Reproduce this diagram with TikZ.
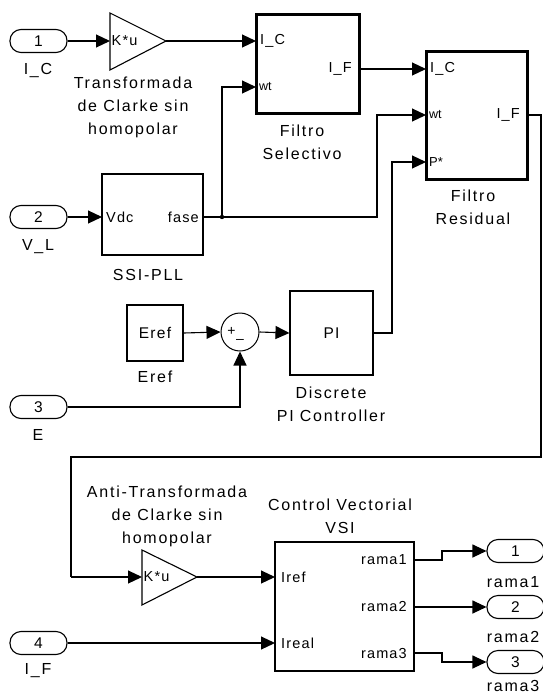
\documentclass[tikz,border=0pt]{standalone}
\usepackage{fontspec}
\setmainfont{Liberation Sans}[LetterSpace=8]
\usetikzlibrary{arrows.meta}
\begin{document}
\begin{tikzpicture}[x=1pt,y=-1pt,
  lbl/.style={font=\fontsize{16}{23}\selectfont\addfontfeatures{LetterSpace=11}, align=center, inner sep=0pt},
  prt/.style={font=\fontsize{14.5}{16}\selectfont, inner sep=0pt},
  blk/.style={draw, line width=1.1pt, inner sep=0pt},
  tblk/.style={draw, line width=3pt, inner sep=0pt},
  iop/.style={draw, line width=1.1pt, rounded corners=11pt, minimum width=57pt, minimum height=23pt, inner sep=0pt, font=\fontsize{15.5}{16}\selectfont},
  wire/.style={line width=1.1pt},
  arr/.style={wire, -{Triangle[length=14pt,width=13pt]}},
]
\useasboundingbox (0,0) rectangle (542,696);
\fill[white] (0,0) rectangle (542,696);

% inports
\node[iop] (in1) at (38.5,41) {1};
\node[iop] (in2) at (38.5,217) {2};
\node[iop] (in3) at (38.5,407) {3};
\node[iop] (in4) at (38.5,643) {4};
\node[lbl] (in1l) at (38,71) {I\_C};
\node[lbl] (in2l) at (38,247) {V\_L};
\node[lbl] (in3l) at (38,435) {E};
\node[lbl] (in4l) at (38,671) {I\_F};

% outports
\node[iop] (out1) at (515.5,551) {1};
\node[iop] (out2) at (515.5,607) {2};
\node[iop] (out3) at (515.5,662) {3};
\node[lbl] (out1l) at (513,582) {rama1};
\node[lbl] (out2l) at (513,637) {rama2};
\node[lbl] (out3l) at (513,686) {rama3};

% gain 1
\coordinate (g1in) at (110,41);
\coordinate (g1out) at (166,41);
\draw[wire] (110,13) -- (g1out) -- (110,70) -- cycle;
\node[prt, anchor=west] (g1t) at (111.5,41) {K*u};
\node[lbl] (g1l) at (133,107) {Transformada\\de Clarke sin\\homopolar};

% Filtro Selectivo
\node[tblk, minimum width=103pt, minimum height=99pt] (fs) at (307.5,63.5) {};
\coordinate (fsIC) at (256,41);
\coordinate (fswt) at (256,87);
\coordinate (fsout) at (359,69);
\node[prt, anchor=west] at (260,41) {I\_C};
\node[prt, anchor=west, font=\fontsize{12.5}{14}\selectfont\addfontfeatures{LetterSpace=0}] at (259,87) {wt};
\node[prt, anchor=east] at (352,69) {I\_F};
\node[lbl] (fsl) at (302,142) {Filtro\\Selectivo};

% Filtro Residual
\node[tblk, minimum width=101pt, minimum height=128pt] (fr) at (476.5,115) {};
\coordinate (frIC) at (426,69);
\coordinate (frwt) at (426,115);
\coordinate (frP) at (426,162);
\coordinate (frout) at (527,115);
\node[prt, anchor=west] at (430,69) {I\_C};
\node[prt, anchor=west, font=\fontsize{12.5}{14}\selectfont\addfontfeatures{LetterSpace=0}] at (429,115) {wt};
\node[prt, anchor=west, font=\fontsize{13}{14}\selectfont\addfontfeatures{LetterSpace=0}] at (429,162) {P*};
\node[prt, anchor=east] at (520,115) {I\_F};
\node[lbl] (frl) at (473,207) {Filtro\\Residual};

% SSI-PLL
\node[blk, minimum width=101pt, minimum height=81pt] (ssi) at (152.5,214.5) {};
\coordinate (ssiin) at (102,217);
\coordinate (ssiout) at (203,217);
\node[prt, anchor=west] at (106,217) {Vdc};
\node[prt, anchor=east] at (199,217) {fase};
\node[lbl] (ssil) at (148,275) {SSI-PLL};

% Eref constant
\node[blk, minimum width=56pt, minimum height=56pt, font=\fontsize{15.5}{16}\selectfont] (eref) at (155,333) {Eref};
\node[lbl] (erefl) at (155,377) {Eref};

% sum
\node[draw, circle, line width=1pt, minimum size=38pt, inner sep=0pt] (sum) at (240,332) {};
\node[prt, font=\fontsize{14}{14}\selectfont] at (231.5,331) {+};
\node[prt, font=\fontsize{14}{14}\selectfont] at (240,341.5) {–};

% PI
\node[blk, minimum width=83pt, minimum height=84pt, font=\fontsize{15.5}{16}\selectfont] (pi) at (331.5,333) {PI};
\node[lbl] (pil) at (331,404) {Discrete\\PI Controller};

% gain 2
\coordinate (g2in) at (142,577);
\coordinate (g2out) at (197,577);
\draw[wire] (142,550) -- (g2out) -- (142,605) -- cycle;
\node[prt, anchor=west] (g2t) at (143.5,577) {K*u};
\node[lbl] (g2l) at (167,516) {Anti-Transformada\\de Clarke sin\\homopolar};

% Control Vectorial VSI
\node[blk, minimum width=139pt, minimum height=129pt] (cv) at (344.5,606.5) {};
\coordinate (cvref) at (275,577);
\coordinate (cvreal) at (275,643);
\coordinate (cvr1) at (414,560);
\coordinate (cvr2) at (414,607);
\coordinate (cvr3) at (414,653);
\node[prt, anchor=west] at (281,577) {Iref};
\node[prt, anchor=west] at (281,643) {Ireal};
\node[prt, anchor=east] at (407,560) {rama1};
\node[prt, anchor=east] at (407,607) {rama2};
\node[prt, anchor=east] at (407,653) {rama3};
\node[lbl] (cvl) at (340,516) {Control Vectorial\\VSI};

% wires
\draw[arr] (in1.east) -- (g1in);
\draw[arr] (g1out) -- (fsIC);
\draw[arr] (in2.east) -- (ssiin);
\coordinate (jn) at (222,217);
\draw[arr] (ssiout) -- (377,217) |- (frwt);
\draw[arr] (jn) |- (fswt);
\fill (jn) circle (2.2pt);
\draw[arr] (fsout) -- (frIC);
\draw[wire] (frout) -- (541,115) -- (541,457) -- (71,457) -- (71,577);
\coordinate (lp) at (71,577);
\draw[arr] (lp) -- (g2in);
\draw[arr] (eref.east) -- (sum.west);
\draw[arr] (sum.east) -- (pi.west);
\draw[arr] (in3.east) -| (sum.south);
\draw[arr] (pi.east) -- (392,333) |- (frP);
\draw[arr] (g2out) -- (cvref);
\draw[arr] (in4.east) -- (cvreal);
\draw[arr] (cvr1) -- (442,560) |- (out1.west);
\draw[arr] (cvr2) -- (out2.west);
\draw[arr] (cvr3) -- (442,653) |- (out3.west);
\end{tikzpicture}
\end{document}
